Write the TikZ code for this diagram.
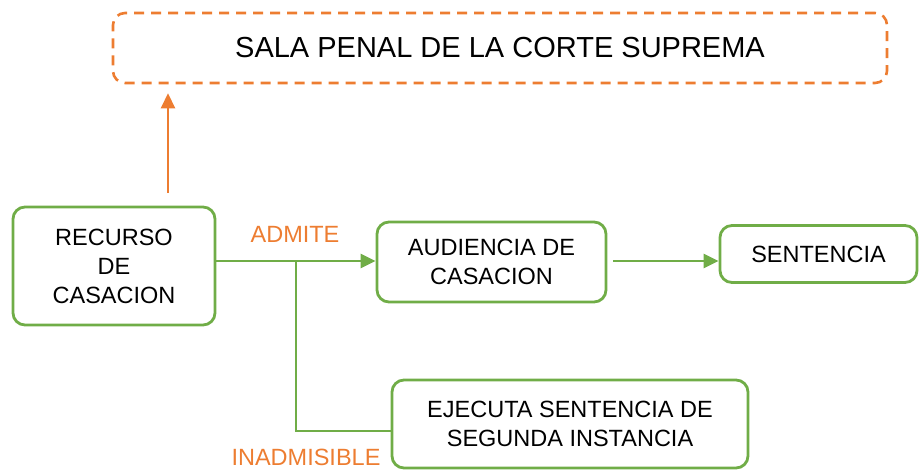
\documentclass[tikz,border=0pt]{standalone}
\usepackage{fontspec}
\setmainfont{Liberation Sans}
\usepackage{tikz}
\usetikzlibrary{arrows.meta,positioning}
\definecolor{vgreen}{HTML}{70AD47}
\definecolor{vorange}{HTML}{ED7D31}

\begin{document}
\begin{tikzpicture}[x=1pt,y=-1pt,>={Triangle[length=15pt,width=14pt]},
                    box/.style={draw=vgreen,line width=2.8pt,rounded corners=12pt,
                      align=center,inner sep=0pt,font=\fontsize{23.5}{29}\selectfont},
                    sala/.style={draw=vorange,line width=2.6pt,dash pattern=on 10pt off 7pt,
                      rounded corners=12pt,inner sep=0pt,font=\fontsize{29}{34}\selectfont},
                    lbl/.style={text=vorange,inner sep=0pt,font=\fontsize{23.5}{29}\selectfont},
                    garrow/.style={draw=vgreen,line width=2.6pt},
                    oarrow/.style={draw=vorange,line width=2.6pt}]
  \useasboundingbox (0,0) rectangle (919,471);

  \node[sala, minimum width=774, minimum height=70] (corte) at (500,48) {SALA PENAL DE LA CORTE SUPREMA};
  \node[box, minimum width=202, minimum height=118] (recurso) at (114,266) {RECURSO\\DE\\CASACION};
  \node[box, minimum width=229, minimum height=80] (audiencia) at (491.5,262) {AUDIENCIA DE\\CASACION};
  \node[box, minimum width=197, minimum height=57] (sentencia) at (818.5,254) {SENTENCIA};
  \node[box, minimum width=356, minimum height=88] (ejecuta) at (570,424) {EJECUTA SENTENCIA DE\\SEGUNDA INSTANCIA};

  \node[lbl] (admite) at (295,234) {ADMITE};
  \node[lbl] (inadmisible) at (306,457) {INADMISIBLE};

  \coordinate (sube) at (168,193);
  \coordinate (rama) at (296,261);

  \draw[oarrow,->,shorten >=9pt] (sube) -- (sube |- corte.south);
  \draw[garrow,->] (recurso.east |- rama) -- (rama -| audiencia.west);
  \draw[garrow] (rama) |- ([yshift=-7pt]ejecuta.west);
  \draw[garrow,->,shorten <=6pt] (audiencia.east |- rama) -- (rama -| sentencia.west);
\end{tikzpicture}
\end{document}
